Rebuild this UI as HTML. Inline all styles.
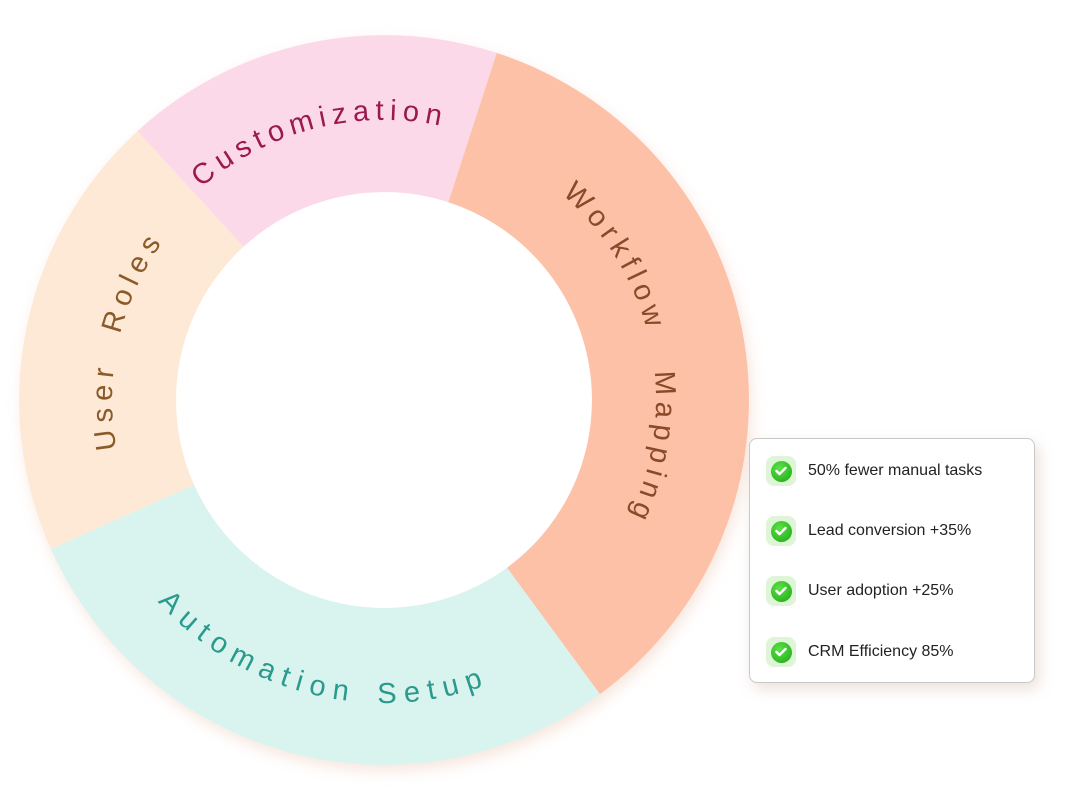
<!DOCTYPE html>
<html><head><meta charset="utf-8"><style>
html,body{margin:0;padding:0;background:#fff;width:1072px;height:805px;overflow:hidden;font-family:"Liberation Sans",sans-serif}
.legend{position:absolute;left:749px;top:438px;width:286px;height:245px;border:1px solid #c8c8c8;border-radius:8px;background:#fff;box-shadow:4px 6px 14px rgba(200,170,150,0.35);box-sizing:border-box}
.item{position:absolute;left:16px;height:30px;display:flex;align-items:center;font-size:16px;color:#222}
.badge{width:30px;height:30px;border-radius:8px;background:#dff5d8;display:flex;align-items:center;justify-content:center;margin-right:12px}
.dot{width:21px;height:21px;border-radius:50%;background:radial-gradient(circle at 40% 35%,#5fe04a,#17a80f);display:flex;align-items:center;justify-content:center}
</style></head><body>
<svg width="1072" height="805" style="position:absolute;left:0;top:0">
<defs>
<filter id="sh" x="-10%" y="-10%" width="120%" height="120%"><feDropShadow dx="3" dy="6" stdDeviation="7" flood-color="#e8b8a0" flood-opacity="0.35"/></filter>
<path id="pc" d="M114.8,322.8 A280,280 0 0 1 585.4,205.4"/>
<path id="pw" d="M384,128 A272,272 0 0 1 503.2,644.5"/>
<path id="pu" d="M198.5,598.9 A272,272 0 0 1 304.5,139.9"/>
<path id="pa" d="M91.3,478.5 A303,303 0 0 0 598.2,614.2"/>
</defs>
<g filter="url(#sh)">
<circle cx="384" cy="400" r="365" fill="#fff"/>
</g>
<g transform="translate(384,400)">
<path d="M-246.6,-268.8 A365,365 0 0 1 112.8,-347.1 L64.3,-197.8 A208,208 0 0 0 -140.5,-153.2 Z" fill="#fcd9e9"/>
<path d="M112.8,-347.1 A365,365 0 0 1 215.9,294.3 L123.0,167.7 A208,208 0 0 0 64.3,-197.8 Z" fill="#fdc1a8"/>
<path d="M215.9,294.3 A365,365 0 0 1 -333.2,148.9 L-189.9,84.9 A208,208 0 0 0 123.0,167.7 Z" fill="#d9f3ef"/>
<path d="M-333.2,148.9 A365,365 0 0 1 -246.6,-268.8 L-140.5,-153.2 A208,208 0 0 0 -189.9,84.9 Z" fill="#fde9d6"/>
</g>
<g font-family="Liberation Sans, sans-serif" font-size="29" letter-spacing="6">
<text fill="#9b1a4b"><textPath href="#pc" startOffset="50%" text-anchor="middle">Customization</textPath></text>
<text fill="#8a4a2a" word-spacing="24"><textPath href="#pw" startOffset="51%" text-anchor="middle">Workflow Mapping</textPath></text>
<text fill="#8a5a28" word-spacing="14" letter-spacing="6.5"><textPath href="#pu" startOffset="50%" text-anchor="middle">User Roles</textPath></text>
<text fill="#2a9a8c" word-spacing="6" letter-spacing="8"><textPath href="#pa" startOffset="51%" text-anchor="middle">Automation Setup</textPath></text>
</g>
</svg>
<div class="legend">
<div class="item" style="top:17px"><div class="badge"><div class="dot"><svg width="12" height="10"><path d="M1.5,5 L4.5,8 L10.5,2" stroke="#fff" stroke-width="2.4" fill="none" stroke-linecap="round" stroke-linejoin="round"/></svg></div></div>50% fewer manual tasks</div>
<div class="item" style="top:77px"><div class="badge"><div class="dot"><svg width="12" height="10"><path d="M1.5,5 L4.5,8 L10.5,2" stroke="#fff" stroke-width="2.4" fill="none" stroke-linecap="round" stroke-linejoin="round"/></svg></div></div>Lead conversion +35%</div>
<div class="item" style="top:137px"><div class="badge"><div class="dot"><svg width="12" height="10"><path d="M1.5,5 L4.5,8 L10.5,2" stroke="#fff" stroke-width="2.4" fill="none" stroke-linecap="round" stroke-linejoin="round"/></svg></div></div>User adoption +25%</div>
<div class="item" style="top:198px"><div class="badge"><div class="dot"><svg width="12" height="10"><path d="M1.5,5 L4.5,8 L10.5,2" stroke="#fff" stroke-width="2.4" fill="none" stroke-linecap="round" stroke-linejoin="round"/></svg></div></div>CRM Efficiency 85%</div>
</div>
</body></html>
